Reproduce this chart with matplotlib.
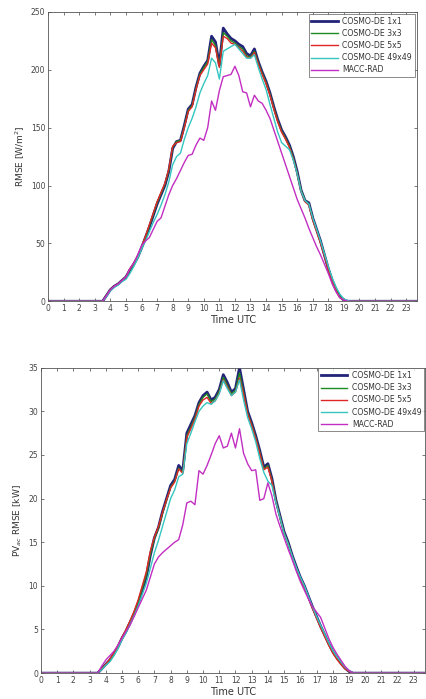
import numpy as np
import matplotlib
matplotlib.use("Agg")
import matplotlib.pyplot as plt

# time axis: night zero at 0 h, 15-min steps from 3.5 to 19.5 h, night zero at 23.75 h
hours = [0.0] + [3.5 + 0.25 * i for i in range(65)] + [23.75]

labels = ["COSMO-DE 1x1", "COSMO-DE 3x3", "COSMO-DE 5x5", "COSMO-DE 49x49", "MACC-RAD"]

# irradiance RMSE [W/m2]
rad_1x1 = [0,
    0, 5,
    10, 13, 15, 18,
    21, 27, 32, 38,
    46, 55, 64, 74,
    84, 92, 100, 112,
    132, 138, 139, 152,
    166, 170, 185, 197,
    203, 208, 229, 224,
    204, 236, 231, 227,
    225, 222, 220, 214,
    212, 218, 207, 198,
    190, 180, 168, 157,
    148, 142, 135, 125,
    112, 96, 87, 85,
    72, 62, 52, 40,
    28, 18, 10, 4,
    1, 0, 0,
    0]
rad_3x3 = [0,
    0, 5,
    10, 13, 15, 18,
    21, 27, 32, 38,
    46, 55, 65, 75,
    85, 93, 101, 113,
    133, 138, 139, 151,
    165, 169, 184, 196,
    202, 207, 226, 221,
    203, 232, 229, 225,
    223, 220, 218, 212,
    211, 216, 206, 197,
    189, 179, 167, 156,
    147, 141, 134, 124,
    111, 96, 87, 84,
    71, 61, 51, 40,
    28, 18, 10, 4,
    1, 0, 0,
    0]
rad_5x5 = [0,
    0, 5,
    10, 13, 15, 18,
    21, 28, 33, 39,
    47, 56, 66, 76,
    86, 94, 102, 114,
    134, 137, 138, 150,
    164, 168, 183, 195,
    200, 205, 223, 219,
    202, 229, 227, 223,
    222, 219, 216, 211,
    210, 215, 205, 196,
    188, 178, 166, 155,
    146, 140, 133, 123,
    110, 95, 86, 83,
    70, 60, 50, 39,
    27, 17, 9, 3,
    1, 0, 0,
    0]
rad_49 = [0,
    0, 4,
    9, 12, 14, 17,
    19, 24, 30, 37,
    45, 52, 60, 68,
    75, 83, 92, 103,
    118, 125, 128, 140,
    150, 158, 168, 180,
    188, 195, 210, 206,
    192, 216, 218, 220,
    222, 218, 214, 210,
    210, 213, 202, 192,
    183, 170, 158, 146,
    137, 134, 131, 122,
    110, 95, 87, 84,
    72, 62, 52, 41,
    30, 20, 12, 6,
    2, 0.5, 0,
    0]
rad_macc = [0,
    0, 5,
    10, 13, 15, 18,
    21, 28, 33, 40,
    48, 52, 55, 62,
    69, 72, 82, 92,
    100, 106, 113, 120,
    126, 127, 135, 141,
    139, 150, 173, 165,
    182, 194, 195, 196,
    203, 195, 181, 180,
    168, 178, 173, 171,
    165, 158, 148, 138,
    128, 118, 108, 98,
    88, 80, 72, 63,
    55, 47, 40, 32,
    24, 15, 8, 3,
    1, 0, 0,
    0]

# PV_ac RMSE [kW]
pv_1x1 = [0,
    0, 0.5,
    1.0, 1.5, 2.2, 3.0,
    4.0, 4.8, 5.8, 6.8,
    8.0, 9.5, 11.0, 13.5,
    15.5, 16.7, 18.5, 20.0,
    21.5, 22.2, 23.8, 23.2,
    27.5, 28.5, 29.5, 31.0,
    31.8, 32.2, 31.3, 31.6,
    32.5, 34.2, 33.3, 32.2,
    32.6, 35.0, 32.5, 30.0,
    28.7, 27.2, 25.5, 23.6,
    24.0, 22.3, 19.8, 18.0,
    16.2, 15.0, 13.5, 12.2,
    11.0, 10.0, 8.8, 7.6,
    6.5, 5.4, 4.4, 3.4,
    2.5, 1.8, 1.2, 0.6,
    0.2, 0, 0,
    0]
pv_3x3 = [0,
    0, 0.5,
    1.0, 1.5, 2.2, 3.0,
    4.0, 4.9, 5.9, 6.9,
    8.1, 9.7, 11.2, 13.6,
    15.4, 16.6, 18.3, 19.8,
    21.3, 22.0, 23.5, 23.0,
    27.2, 28.2, 29.3, 30.8,
    31.6, 32.0, 31.1, 31.4,
    32.3, 33.9, 33.0, 32.0,
    32.4, 34.4, 32.2, 29.8,
    28.5, 27.0, 25.3, 23.4,
    23.8, 22.1, 19.7, 17.9,
    16.1, 14.9, 13.4, 12.1,
    10.9, 9.9, 8.7, 7.5,
    6.4, 5.3, 4.3, 3.3,
    2.4, 1.7, 1.1, 0.6,
    0.2, 0, 0,
    0]
pv_5x5 = [0,
    0, 0.5,
    1.0, 1.6, 2.3, 3.1,
    4.1, 5.0, 6.0, 7.1,
    8.4, 10.0, 11.6, 14.0,
    15.6, 16.8, 18.4, 19.9,
    21.2, 21.9, 23.4, 22.9,
    27.0, 28.0, 29.1, 30.6,
    31.3, 31.6, 30.9, 31.2,
    32.1, 33.6, 32.8, 31.8,
    32.2, 33.8, 32.0, 29.7,
    28.4, 26.9, 25.2, 23.3,
    23.6, 22.0, 19.6, 17.8,
    16.0, 14.8, 13.3, 12.0,
    10.8, 9.8, 8.6, 7.4,
    6.3, 5.2, 4.2, 3.2,
    2.3, 1.6, 1.0, 0.5,
    0.2, 0, 0,
    0]
pv_49 = [0,
    0, 0.4,
    0.9, 1.3, 2.0, 2.8,
    3.8, 4.6, 5.6, 6.6,
    7.7, 9.0, 10.3, 12.0,
    13.8, 15.2, 16.8, 18.4,
    20.0, 21.0, 22.5, 22.8,
    26.3, 27.5, 28.8, 30.0,
    30.6, 31.0, 30.8, 31.2,
    32.0, 33.5, 32.6, 31.8,
    32.2, 33.6, 31.3, 29.3,
    28.0, 26.5, 24.6, 23.0,
    22.0, 21.5, 19.5, 17.8,
    16.0, 14.8, 13.4, 12.1,
    11.0, 10.0, 8.8, 7.6,
    6.5, 5.5, 4.5, 3.5,
    2.6, 1.9, 1.3, 0.7,
    0.3, 0, 0,
    0]
pv_macc = [0,
    0, 0.8,
    1.5, 2.0, 2.5, 3.2,
    4.0, 4.8, 5.5, 6.5,
    7.5, 8.5, 9.5, 11.0,
    12.5, 13.3, 13.8, 14.2,
    14.6, 15.0, 15.3, 17.0,
    19.5, 19.7, 19.3, 23.2,
    22.8, 23.8, 25.0, 26.3,
    27.2, 25.8, 26.0, 27.5,
    25.8, 28.0, 25.2, 24.0,
    23.2, 23.3, 19.8, 20.0,
    21.8, 20.3, 18.2, 16.8,
    15.5, 14.2, 13.0, 11.7,
    10.5, 9.5, 8.5, 7.6,
    7.0, 6.4, 5.2, 4.0,
    3.0, 2.2, 1.5, 0.8,
    0.3, 0, 0,
    0]

colors = ["#23237a", "#1f8a1f", "#e02525", "#33c6c0", "#c22ec2"]
widths = [2.0, 1.0, 1.0, 1.0, 1.0]

fig = plt.figure(figsize=(4.26, 6.99), dpi=100)
ax1 = fig.add_axes([0.113, 0.569, 0.866, 0.414])
ax2 = fig.add_axes([0.096, 0.037, 0.902, 0.437])


def style(ax, ymax, ystep, ylabel, pad):
    ax.set_xlim(0, 23.7)
    ax.set_ylim(0, ymax)
    ax.set_xticks(range(24))
    ax.set_yticks(np.arange(0, ymax + 0.1, ystep))
    ax.tick_params(direction="in", top=True, right=True, labelsize=5.5,
                   length=2.5, width=0.5, colors="#444444", pad=2)
    for s in ax.spines.values():
        s.set_linewidth(0.6)
        s.set_color("#555555")
    ax.set_xlabel("Time UTC", fontsize=7, color="#333333", labelpad=1.5)
    ax.set_ylabel(ylabel, fontsize=6.5, color="#333333", labelpad=3)
    leg = ax.legend(loc="upper right", fontsize=5.6, frameon=True, fancybox=False,
                    borderpad=0.35, labelspacing=0.4, handlelength=3.4,
                    handletextpad=0.6, borderaxespad=pad)
    leg.get_frame().set_edgecolor("#555555")
    leg.get_frame().set_linewidth(0.6)
    for t in leg.get_texts():
        t.set_color("#333333")


for vals, c, w, lab in zip([rad_1x1, rad_3x3, rad_5x5, rad_49, rad_macc], colors, widths, labels):
    ax1.plot(hours, vals, color=c, lw=w, label=lab)
style(ax1, 250, 50, "RMSE [W/m$^2$]", 0.3)

for vals, c, w, lab in zip([pv_1x1, pv_3x3, pv_5x5, pv_49, pv_macc], colors, widths, labels):
    ax2.plot(hours, vals, color=c, lw=w, label=lab)
style(ax2, 35, 5, "PV$_{ac}$ RMSE [kW]", 0.1)

fig.savefig("out.png", dpi=100)
